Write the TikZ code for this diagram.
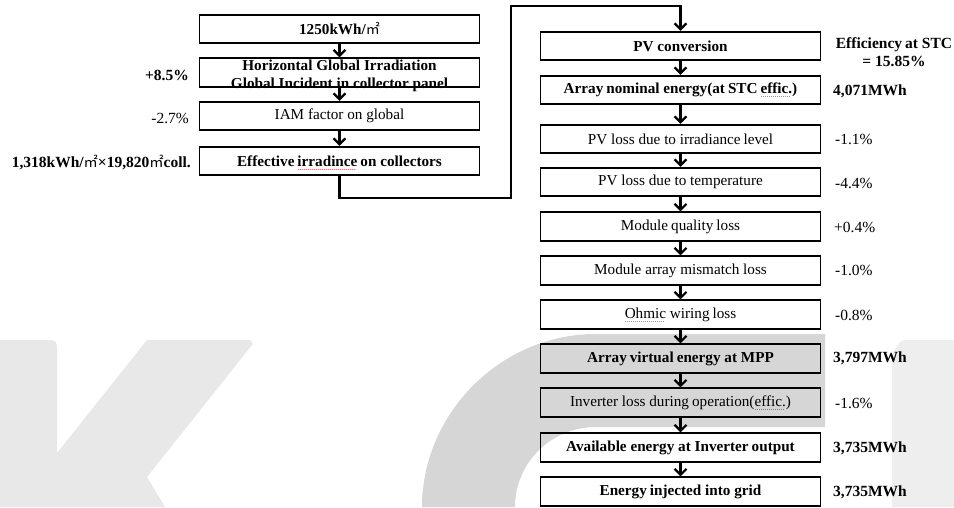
\documentclass[tikz,border=0pt]{standalone}
\usepackage{fontspec}
\setmainfont{Liberation Serif}
\newfontfamily\cjk{Noto Sans CJK KR}
\usetikzlibrary{arrows.meta}
\newsavebox\wavebox
\newcommand\redwave[1]{\sbox\wavebox{#1}\rlap{\color{red!60}\raisebox{-3.2pt}[0pt][0pt]{\leaders\hbox to 2pt{\hss\rule{1pt}{0.5pt}\hss}\hskip\wd\wavebox}}\usebox\wavebox}
\newcommand\sqm{{\cjk\mdseries\scalebox{0.92}{㎡}}}
\newcommand\ws{\hspace{3pt}}
\tikzset{
  boxnode/.style={draw, line width=1.8pt, minimum width=280pt, minimum height=28.5pt,
    inner sep=0pt, font=\fontsize{15.2}{17}\selectfont},
  bboxnode/.style={boxnode, font=\bfseries\fontsize{15.2}{17}\selectfont},
  btext/.style={inner sep=0pt, font=\bfseries\fontsize{15.2}{18}\selectfont},
  flow/.style={line width=2.2pt, -{Straight Barb[length=6pt,width=12pt]}},
  lab/.style={inner sep=0pt, font=\fontsize{15.5}{18}\selectfont},
  blab/.style={inner sep=0pt, font=\bfseries\fontsize{15.5}{18}\selectfont},
}
\begin{document}
\begin{tikzpicture}[x=1pt,y=-1pt]
\useasboundingbox (0,0) rectangle (954,507);
% left column
\node[bboxnode] (b1) at (339.5,29) {1250kWh/\sqm};
\node[boxnode] (b2) at (339.5,72.5) {};
\node[btext, align=center] (b2t) at (339.5,75.5) {Horizontal Global Irradiation\\Global Incident in collector panel};
\node[boxnode] (b3) at (339.5,116) {IAM factor on global};
\node[bboxnode] (b4) at (339.5,161) {Effective\ws\redwave{irradince}\ws on collectors};
% right column
\node[bboxnode] (r1) at (680.5,46) {PV conversion};
\node[bboxnode] (r2) at (680.5,90) {Array\ws nominal energy(at\ws STC\ws\redwave{effic.})};
\node[boxnode] (r3) at (680.5,139) {PV loss due to irradiance\ws level};
\node[boxnode] (r4) at (680.5,182) {PV loss due to temperature};
\node[boxnode] (r5) at (680.5,226.5) {Module\ws quality\ws loss};
\node[boxnode] (r6) at (680.5,270.5) {Module array mismatch loss};
\node[boxnode] (r7) at (680.5,314.5) {\redwave{Ohmic} wiring\ws loss};
\node[bboxnode] (r8) at (680.5,358.5) {Array\ws virtual\ws energy at MPP};
\node[boxnode] (r9) at (680.5,402.5) {Inverter loss during\ws operation(\redwave{effic.})};
\node[bboxnode] (r10) at (680.5,447.5) {Available energy at Inverter\ws output};
\node[bboxnode] (r11) at (680.5,491.5) {Energy\ws injected into grid};
% connectors
\draw[flow] (b1) -- (b2);
\draw[flow] (b2) -- (b3);
\draw[flow] (b3) -- (b4);
\coordinate (c2) at (511,198);
\coordinate (c3) at (511,6);
\draw[flow] (b4.south) |- (c2) -- (c3) -| (r1.north);
\draw[flow] (r1) -- (r2);
\draw[flow] (r2) -- (r3);
\draw[flow] (r3) -- (r4);
\draw[flow] (r4) -- (r5);
\draw[flow] (r5) -- (r6);
\draw[flow] (r6) -- (r7);
\draw[flow] (r7) -- (r8);
\draw[flow] (r8) -- (r9);
\draw[flow] (r9) -- (r10);
\draw[flow] (r10) -- (r11);
% left labels
\node[blab, anchor=east] (l1) at (189,75) {+8.5\%};
\node[lab, anchor=east] (l2) at (189,118) {-2.7\%};
\node[blab, anchor=east] (l3) at (191,162) {1,318kWh/\sqm×19,820\sqm coll.};
% right labels
\node[blab, align=center] (e1) at (894,52) {Efficiency\ws at STC\\= 15.85\%};
\node[blab, anchor=west] (e2) at (833,91) {4,071MWh};
\node[lab, anchor=west] (e3) at (835,139) {-1.1\%};
\node[lab, anchor=west] (e4) at (835,183) {-4.4\%};
\node[lab, anchor=west] (e5) at (834,227) {+0.4\%};
\node[lab, anchor=west] (e6) at (835,270) {-1.0\%};
\node[lab, anchor=west] (e7) at (835,315) {-0.8\%};
\node[blab, anchor=west] (e8) at (833,358) {3,797MWh};
\node[lab, anchor=west] (e9) at (835,403) {-1.6\%};
\node[blab, anchor=west] (e10) at (833,448) {3,735MWh};
\node[blab, anchor=west] (e11) at (833,492) {3,735MWh};
% watermark
\fill[black, fill opacity=0.09] (0,507) -- (0,340) -- (52,340) to[out=0,in=90] (57,346) -- (57,453) -- (147,340) -- (250,340) to[out=0,in=60] (252,345) -- (147,477) -- (165,507) -- cycle;
\fill[black, fill opacity=0.16] (422,507) .. controls (422,414) and (500,334) .. (596,334) -- (825,334) -- (825,427) -- (596,427) .. controls (551,427) and (515,463) .. (515,507) -- cycle;
\fill[black, fill opacity=0.065] (892,507) -- (892,352) to[out=-90,in=180] (904,340) -- (954,340) -- (954,507) -- cycle;
\end{tikzpicture}
\end{document}
